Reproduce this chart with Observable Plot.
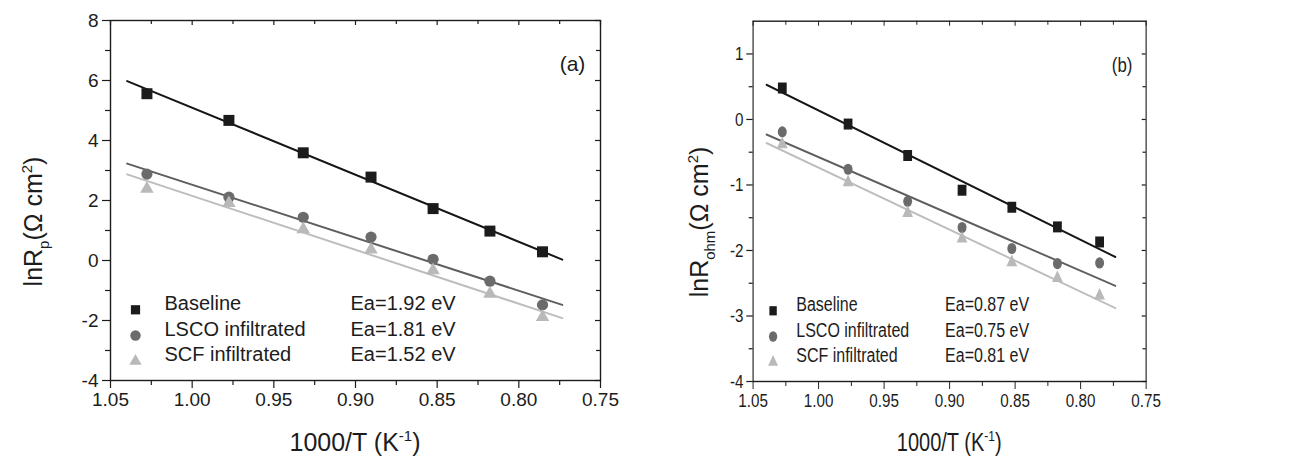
<!DOCTYPE html>
<html>
<head>
<meta charset="utf-8">
<script src="https://cdn.jsdelivr.net/npm/d3@7"></script>
<script src="https://cdn.jsdelivr.net/npm/@observablehq/plot@0.6"></script>
<style>
  body { margin: 0; background: #fff; }
  #wrap { display: flex; width: 1291px; height: 458px; overflow: hidden; }
  #left { width: 645px; height: 458px; flex: none; }
  #right { width: 646px; height: 458px; flex: none; overflow: visible; }
  #right svg { transform: scaleX(0.8); transform-origin: 0 0; }
  svg text { font-family: "Liberation Sans", Arial, Helvetica, sans-serif; }
</style>
</head>
<body>
<div id="wrap"><div id="left"></div><div id="right"></div></div>
<script>
// ---- data ----
const invT = [1.0277, 0.9775, 0.9320, 0.8905, 0.8525, 0.8177, 0.7855];
const seriesNames = ["Baseline", "LSCO infiltrated", "SCF infiltrated"];

const rpBaseline = [5.56, 4.67, 3.59, 2.78, 1.73, 0.98, 0.29];
const rpLSCO     = [2.88, 2.11, 1.44, 0.78, 0.04, -0.69, -1.48];
const rpSCF      = [2.39, 1.91, 1.04, 0.36, -0.33, -1.11, -1.89];
const rpEa = ["Ea=1.92 eV", "Ea=1.81 eV", "Ea=1.52 eV"];

const rohmBaseline = [0.48, -0.07, -0.55, -1.08, -1.34, -1.64, -1.87];
const rohmLSCO     = [-0.19, -0.76, -1.25, -1.65, -1.97, -2.20, -2.19];
const rohmSCF      = [-0.38, -0.96, -1.43, -1.82, -2.18, -2.42, -2.69];
const rohmEa = ["Ea=0.87 eV", "Ea=0.75 eV", "Ea=0.81 eV"];

// fitted lines (end points)
const fitX = [1.0398, 0.7734];
const rpFitBaseline = [5.98, 0.03];
const rpFitLSCO     = [3.23, -1.48];
const rpFitSCF      = [2.87, -1.92];
const rohmFitBaseline = [0.53, -2.10];
const rohmFitLSCO     = [-0.23, -2.54];
const rohmFitSCF      = [-0.36, -2.88];

// ticks
const xTicks = [1.05, 1.00, 0.95, 0.90, 0.85, 0.80, 0.75];
const xMinor = [1.025, 0.975, 0.925, 0.875, 0.825, 0.775];
const rpTicks = [-4, -2, 0, 2, 4, 6, 8];
const rpMinor = [-3, -1, 1, 3, 5, 7];
const rohmTicks = [-4, -3, -2, -1, 0, 1];
const rohmMinor = [-3.5, -2.5, -1.5, -0.5, 0.5];

// styles
const symbols = ["square", "circle", "triangle"];
const dotR = [6.2, 5.6, 5.0];
const legR = [5.2, 5.2, 4.6];
const fills = ["#1b1b1b", "#6b6b6b", "#b9b9b9"];
const lineColors = ["#151515", "#5e5e5e", "#bdbdbd"];
const ink = "#1c1c1c";

function makePanel(cfg) {
  const W = cfg.width, H = 458;
  const innerW = W - cfg.ml - cfg.mr;
  const innerH = H - cfg.mt - cfg.mb;
  const marks = [
    Plot.axisX({ticks: xTicks, tickSize: 8, tickPadding: 4, tickFormat: d => d.toFixed(2), fontSize: 19, label: null, stroke: ink, strokeWidth: 1.2}),
    Plot.axisX({ticks: xMinor, tickSize: 5, tickFormat: () => "", label: null, stroke: ink, strokeWidth: 1.2}),
    Plot.axisY({ticks: cfg.yTicks, tickSize: 8, tickPadding: 4, tickFormat: d => String(d), fontSize: 19, label: null, stroke: ink, strokeWidth: 1.2}),
    Plot.axisY({ticks: cfg.yMinor, tickSize: 5, tickFormat: () => "", label: null, stroke: ink, strokeWidth: 1.2}),
    Plot.ruleX(xTicks, {x: d => d, insetBottom: innerH - 5, stroke: ink, strokeWidth: 1.2}),
    Plot.ruleX(xMinor, {x: d => d, insetBottom: innerH - 4, stroke: ink, strokeWidth: 1.2}),
    Plot.ruleY(cfg.yTicks, {y: d => d, insetLeft: innerW - 5, stroke: ink, strokeWidth: 1.2}),
    Plot.ruleY(cfg.yMinor, {y: d => d, insetLeft: innerW - 4, stroke: ink, strokeWidth: 1.2}),
    Plot.frame({stroke: ink, strokeWidth: 1.4})
  ];
  cfg.fits.forEach((f, s) => {
    const data = f.map((v, i) => ({x: fitX[i], y: v}));
    marks.push(Plot.line(data, {x: "x", y: "y", stroke: lineColors[s], strokeWidth: 2}));
  });
  cfg.series.forEach((vals, s) => {
    const data = vals.map((v, i) => ({x: invT[i], y: v}));
    marks.push(Plot.dot(data, {x: "x", y: "y", symbol: symbols[s], r: dotR[s], fill: fills[s], stroke: "none"}));
  });
  const rowDy = [-70.7, -45, -19.3];
  seriesNames.forEach((name, s) => {
    marks.push(Plot.dot([name], {frameAnchor: "bottom-left", dx: 25, dy: rowDy[s], symbol: symbols[s], r: legR[s], fill: fills[s], stroke: "none"}));
    marks.push(Plot.text([name], {frameAnchor: "bottom-left", text: d => d, dx: 54, dy: rowDy[s], textAnchor: "start", fontSize: 20, fill: ink}));
    marks.push(Plot.text([cfg.ea[s]], {frameAnchor: "bottom-left", text: d => d, dx: 240, dy: rowDy[s], textAnchor: "start", fontSize: 20, fill: ink}));
  });
  marks.push(Plot.text([cfg.tag], {frameAnchor: "top-right", text: d => d, dx: cfg.tagDx, dy: 36, textAnchor: "middle", fontSize: 21, fill: ink}));

  const svg = Plot.plot({
    width: W, height: H,
    marginLeft: cfg.ml, marginRight: cfg.mr, marginTop: cfg.mt, marginBottom: cfg.mb,
    x: {domain: [1.05, 0.75]},
    y: {domain: cfg.yDomain},
    style: {background: "#fff", color: ink, fontFamily: '"Liberation Sans", Arial, sans-serif', overflow: "visible"},
    marks
  });
  svg.style.maxWidth = "none";
  svg.style.width = W + "px";
  svg.style.height = H + "px";

  const s = d3.select(svg);
  // x axis title
  const xt = s.append("text")
    .attr("x", cfg.ml + innerW / 2).attr("y", 451)
    .attr("text-anchor", "middle").attr("font-size", 25).attr("fill", ink);
  xt.append("tspan").text("1000/T (K");
  xt.append("tspan").attr("font-size", 15).attr("dy", -10).text("-1");
  xt.append("tspan").attr("dy", 10).text(")");
  // y axis title
  const g = s.append("g").attr("transform", `translate(${cfg.ytX},${cfg.ytY}) scale(${cfg.ytScale},1) rotate(-90)`);
  const yt = g.append("text").attr("text-anchor", "middle").attr("font-size", 25).attr("fill", ink);
  yt.append("tspan").text("lnR");
  yt.append("tspan").attr("font-size", 15).attr("dy", 7).text(cfg.sub);
  yt.append("tspan").attr("dy", -7).text("(Ω cm");
  yt.append("tspan").attr("font-size", 15).attr("dy", -10).text("2");
  yt.append("tspan").attr("dy", 10).text(")");
  return svg;
}

document.getElementById("left").appendChild(makePanel({
  width: 645, ml: 110, mr: 45, mt: 20, mb: 78,
  yDomain: [-4, 8], yTicks: rpTicks, yMinor: rpMinor,
  series: [rpBaseline, rpLSCO, rpSCF],
  fits: [rpFitBaseline, rpFitLSCO, rpFitSCF],
  ea: rpEa, tag: "(a)", tagDx: -28,
  sub: "p", ytX: 42, ytY: 221.5, ytScale: 1
}));

document.getElementById("right").appendChild(makePanel({
  width: 807.5, ml: 134.6, mr: 181.6, mt: 20.7, mb: 77,
  yDomain: [-4, 1.5], yTicks: rohmTicks, yMinor: rohmMinor,
  series: [rohmBaseline, rohmLSCO, rohmSCF],
  fits: [rohmFitBaseline, rohmFitLSCO, rohmFitSCF],
  ea: rohmEa, tag: "(b)", tagDx: -30,
  sub: "ohm", ytX: 78.75, ytY: 222, ytScale: 1.25
}));
</script>
</body>
</html>
